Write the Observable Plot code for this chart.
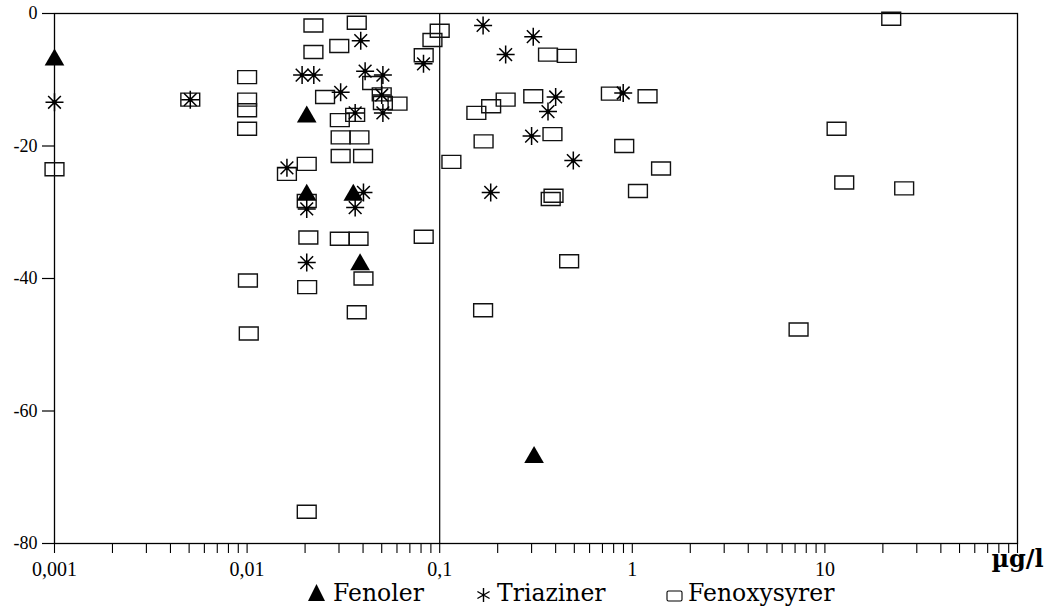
<!DOCTYPE html>
<html><head><meta charset="utf-8">
<script src="https://cdn.jsdelivr.net/npm/d3@7"></script>
<script src="https://cdn.jsdelivr.net/npm/@observablehq/plot@0.6"></script>
<style>
html,body{margin:0;padding:0;background:#fff;}
#chart{width:1052px;position:relative;}
</style></head><body><div id="chart"></div>
<script>
// ---- data (concentration µg/l on x, change on y) ----
const seriesNames = ["Fenoler", "Triaziner", "Fenoxysyrer"];

const fenolerX = [0.001, 0.0204, 0.0204, 0.0356, 0.0386, 0.309];
const fenolerY = [-7.0, -15.6, -27.4, -27.4, -37.9, -67.0];

const triazinerX = [0.001, 0.00507, 0.0193, 0.0222, 0.0389, 0.041, 0.0507, 0.0306, 0.05, 0.0507, 0.0364,
  0.0824, 0.0161, 0.0204, 0.0402, 0.0364, 0.0204, 0.168, 0.306, 0.220, 0.400, 0.365, 0.897, 0.300, 0.494, 0.184];
const triazinerY = [-13.4, -13.0, -9.3, -9.3, -4.1, -8.7, -9.3, -11.9, -12.3, -15.0, -15.0,
  -7.6, -23.3, -29.5, -27.0, -29.3, -37.6, -1.8, -3.5, -6.2, -12.6, -14.8, -12.0, -18.5, -22.2, -27.0];

const fenoxyX = [0.001, 0.00507, 0.01, 0.01, 0.01, 0.01, 0.0101, 0.0102,
  0.0221, 0.0371, 0.0301, 0.0221, 0.1, 0.0917, 0.0826,
  0.0446, 0.0254, 0.05, 0.0507, 0.0604, 0.0303, 0.0364,
  0.0306, 0.0383, 0.0306, 0.04, 0.0204, 0.0161, 0.0204,
  0.0208, 0.0303, 0.0379, 0.0826, 0.0402, 0.0205, 0.0371, 0.0204,
  0.365, 0.457, 0.220, 0.185, 0.155, 0.306, 0.774, 1.20, 0.385, 0.169, 0.115, 0.908, 1.41, 1.07,
  0.377, 0.39, 0.47, 0.168, 7.3, 22.1, 11.5, 12.6, 25.8];
const fenoxyY = [-23.5, -13.0, -9.6, -13.0, -14.6, -17.4, -40.3, -48.3,
  -1.8, -1.4, -4.9, -5.8, -2.6, -4.0, -6.3,
  -10.5, -12.6, -12.2, -13.5, -13.6, -16.1, -15.3,
  -18.7, -18.7, -21.5, -21.5, -22.7, -24.2, -28.3,
  -33.8, -34.0, -34.0, -33.7, -40.0, -41.3, -45.1, -75.2,
  -6.2, -6.4, -13.0, -14.0, -15.0, -12.5, -12.1, -12.5, -18.2, -19.3, -22.4, -20.0, -23.4, -26.8,
  -28.0, -27.5, -37.4, -44.8, -47.7, -0.8, -17.4, -25.5, -26.4];

const xDomain = [0.001, 100];
const yDomain = [-80, 0];
const xMajorTicks = [0.001, 0.01, 0.1, 1, 10];
const xTickLabels = ["0,001", "0,01", "0,1", "1", "10"];
const yTicks = [0, -20, -40, -60, -80];
const refLine = [0.1];
const unitLabel = "µg/l";

// ---- build tables ----
const fenoler = fenolerX.map((x, i) => ({x, y: fenolerY[i]}));
const triaziner = triazinerX.map((x, i) => ({x, y: triazinerY[i]}));
const fenoxy = fenoxyX.map((x, i) => ({x, y: fenoxyY[i]}));

const labelMap = new Map(xMajorTicks.map((t, i) => [t, xTickLabels[i]]));
const minorTicks = [];
for (const d of xMajorTicks.concat([100])) {
  if (d === xMajorTicks[0]) continue;
  for (let k = 2; k <= 9; k++) minorTicks.push(k * d / 10);
}
const xTicks = xMajorTicks.concat(minorTicks, [xDomain[1]]);

// ---- custom symbols ----
const asteriskSymbol = {
  draw(ctx, size) {
    const r = Math.sqrt(size / Math.PI), d = r * Math.SQRT1_2;
    ctx.moveTo(0, -r); ctx.lineTo(0, r);
    ctx.moveTo(-r, 0); ctx.lineTo(r, 0);
    ctx.moveTo(-d, -d); ctx.lineTo(d, d);
    ctx.moveTo(-d, d); ctx.lineTo(d, -d);
  }
};
const boxSymbol = {
  draw(ctx, size) {
    const r = Math.sqrt(size / Math.PI), w = r * 1.45, h = r;
    ctx.moveTo(-w, -h); ctx.lineTo(w, -h); ctx.lineTo(w, h); ctx.lineTo(-w, h); ctx.closePath();
  }
};

const W = 1052, H = 580;
const chart = Plot.plot({
  width: W,
  height: H,
  marginLeft: 54,
  marginRight: 35,
  marginTop: 13,
  marginBottom: 37,
  style: {fontFamily: "'Liberation Serif', serif", color: "black", background: "white", overflow: "visible"},
  x: {type: "log", domain: xDomain, label: null},
  y: {domain: yDomain, label: null},
  marks: [
    Plot.ruleX(refLine, {stroke: "black", strokeWidth: 1.2}),
    Plot.frame({stroke: "black", strokeWidth: 1.3}),
    Plot.axisY({ticks: yTicks, label: null, tickSize: 12, tickPadding: 5, tickFormat: d => String(d), fontSize: 18, strokeWidth: 1.2}),
    Plot.axisX({ticks: xTicks, label: null, tickSize: 10, tickPadding: 8, tickFormat: d => labelMap.get(d) ?? "", fontSize: 20, strokeWidth: 1.1}),
    Plot.text([unitLabel], {x: () => xDomain[1], y: () => yDomain[0], text: d => d, dy: 16, fontSize: 24, fontWeight: "bold", fontFamily: "'DejaVu Serif', serif", fill: "black"}),
    Plot.dot(fenoxy, {x: "x", y: "y", symbol: boxSymbol, r: 6.5, stroke: "#111", strokeWidth: 1.4, fill: "none"}),
    Plot.dot(fenoler, {x: "x", y: "y", symbol: "triangle", r: 7.3, fill: "black", stroke: "none"}),
    Plot.dot(triaziner, {x: "x", y: "y", symbol: asteriskSymbol, r: 9, stroke: "black", strokeWidth: 1.5, fill: "none"}),
    Plot.dot(triaziner, {x: "x", y: "y", r: 2.2, fill: "black", stroke: "none"})
  ]
});
document.getElementById("chart").appendChild(chart);

// ---- legend below the plot ----
const legendPos = [
  {sym: 316.5, text: 333},
  {sym: 483.5, text: 497},
  {sym: 674.5, text: 688}
];
const leg = d3.select("#chart").append("svg")
  .attr("width", W).attr("height", 33).style("display", "block");
const base = 21;
seriesNames.forEach((name, i) => {
  const p = legendPos[i];
  const g = leg.append("g").attr("transform", `translate(${p.sym},${base - 8})`);
  if (i === 0) {
    g.append("path").attr("d", "M0,-9L8.5,8L-8.5,8Z").attr("fill", "black");
  } else if (i === 1) {
    const r = 7;
    g.append("path")
      .attr("d", `M0,${-r}L0,${r}M${-r*0.87},${-r*0.5}L${r*0.87},${r*0.5}M${-r*0.87},${r*0.5}L${r*0.87},${-r*0.5}`)
      .attr("stroke", "black").attr("stroke-width", 1.4).attr("transform", "translate(0,2)");
  } else {
    g.append("rect").attr("x", -7.5).attr("y", -2).attr("width", 15).attr("height", 10).attr("rx", 1.5)
      .attr("fill", "none").attr("stroke", "black").attr("stroke-width", 1.1);
  }
  leg.append("text").attr("x", p.text).attr("y", base)
    .attr("font-family", "'DejaVu Serif', serif").attr("font-size", 23.5).attr("fill", "black")
    .text(name);
});
</script></body></html>
